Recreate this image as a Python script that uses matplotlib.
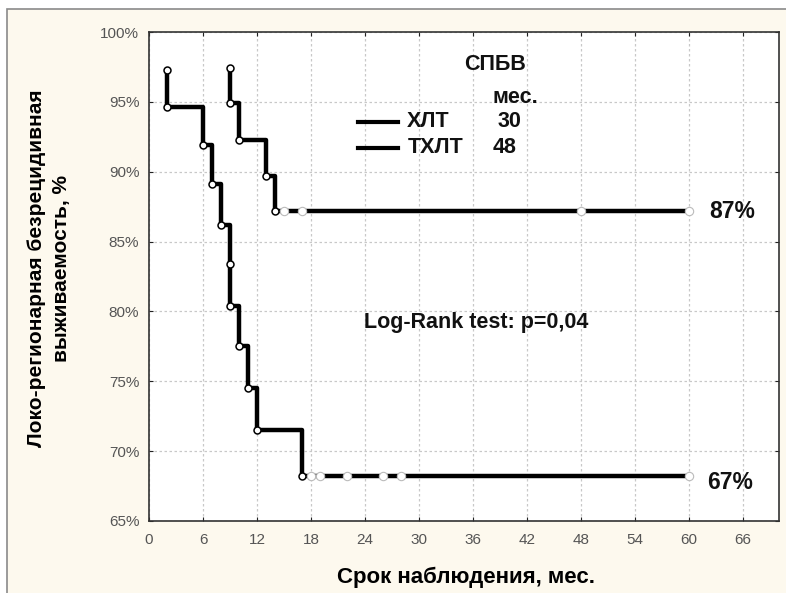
import matplotlib
matplotlib.use('Agg')
import matplotlib.pyplot as plt
from matplotlib.lines import Line2D
from matplotlib.patches import Rectangle
from matplotlib.ticker import FuncFormatter

plt.rcParams['font.family'] = ['Liberation Sans', 'DejaVu Sans']

# ХЛТ (нижняя кривая)
hlt_t = [2, 2, 6, 7, 8, 9, 9, 10, 11, 12, 17]
hlt_s = [97.3, 94.6, 91.9, 89.1, 86.2, 83.4, 80.4, 77.5, 74.5, 71.5, 68.2]
hlt_cens = [18, 19, 22, 26, 28, 60]

# ТХЛТ (верхняя кривая)
thlt_t = [9, 9, 10, 13, 14]
thlt_s = [97.4, 94.9, 92.3, 89.7, 87.2]
thlt_cens = [15, 17, 48, 60]

x_ticks = list(range(0, 67, 6))
y_ticks = list(range(65, 101, 5))

bg = '#fdf9ee'
fig = plt.figure(figsize=(7.86, 5.93), dpi=100, facecolor='white')
fig.add_artist(Rectangle((7/786, -0.01), 1.0, 1 - 9/593 + 0.01, transform=fig.transFigure,
                         facecolor=bg, edgecolor='#8a8a8a', lw=1.2, zorder=-10))
ax = fig.add_axes([149/786, 1 - 521/593, 630/786, 489/593])
ax.set_facecolor('white')

def draw_curve(t, s, cens):
    last = cens[-1]
    xs = t + [last]
    ys = s + [s[-1]]
    ax.step(xs, ys, where='post', color='black', lw=3.2, zorder=3, solid_capstyle='butt')
    ax.plot(t, s, 'o', ms=5, mfc='white', mec='black', mew=1.1, zorder=4)
    ax.plot(cens, [s[-1]] * len(cens), 'o', ms=6, mfc='white', mec='#bbbbbb',
            mew=0.8, zorder=4)

draw_curve(hlt_t, hlt_s, hlt_cens)
draw_curve(thlt_t, thlt_s, thlt_cens)

ax.set_xlim(0, 70)
ax.set_ylim(65, 100)
ax.set_xticks(x_ticks)
ax.set_yticks(y_ticks)
ax.yaxis.set_major_formatter(FuncFormatter(lambda v, p: '%d%%' % v))
ax.grid(True, color='#c8c8c8', ls=(0, (2, 2)), lw=0.9)
ax.tick_params(direction='in', length=3, colors='#222222', labelcolor='#555555',
               labelsize=11, top=True, right=True)
ax.tick_params(axis='x', pad=9)
ax.tick_params(axis='y', pad=7)
for sp in ax.spines.values():
    sp.set_color('#333333')
    sp.set_linewidth(1.2)

fig.text(466/786, 1 - 577/593, 'Срок наблюдения, мес.', ha='center', va='center',
         fontsize=16, fontweight='bold')
fig.text(49/786, 1 - 268/593, 'Локо-регионарная безрецидивная\nвыживаемость, %',
         rotation=90, ha='center', va='center', fontsize=15, fontweight='bold',
         linespacing=1.4)

tk = dict(transform=ax.transAxes, fontsize=15.5, fontweight='bold', color='#111111')
ax.text(0.549, 0.933, 'СПБВ', ha='center', va='center', **tk)
ax.text(0.581, 0.867, 'мес.', ha='center', va='center', **tk)
ax.add_line(Line2D([0.332, 0.396], [0.816, 0.816], transform=ax.transAxes,
                   color='black', lw=3))
ax.add_line(Line2D([0.332, 0.396], [0.763, 0.763], transform=ax.transAxes,
                   color='black', lw=3))
ax.text(0.410, 0.816, 'ХЛТ', ha='left', va='center', **tk)
ax.text(0.410, 0.763, 'ТХЛТ', ha='left', va='center', **tk)
ax.text(0.572, 0.816, '30', ha='center', va='center', **tk)
ax.text(0.565, 0.763, '48', ha='center', va='center', **tk)
ax.text(0.519, 0.405, 'Log-Rank test: p=0,04', ha='center', va='center', **tk)
ax.text(0.890, 0.632, '87%', ha='left', va='center', transform=ax.transAxes,
        fontsize=16.5, fontweight='bold', color='#111111')
ax.text(0.886, 0.078, '67%', ha='left', va='center', transform=ax.transAxes,
        fontsize=16.5, fontweight='bold', color='#111111')

fig.savefig('out.png', dpi=100, facecolor=fig.get_facecolor())
